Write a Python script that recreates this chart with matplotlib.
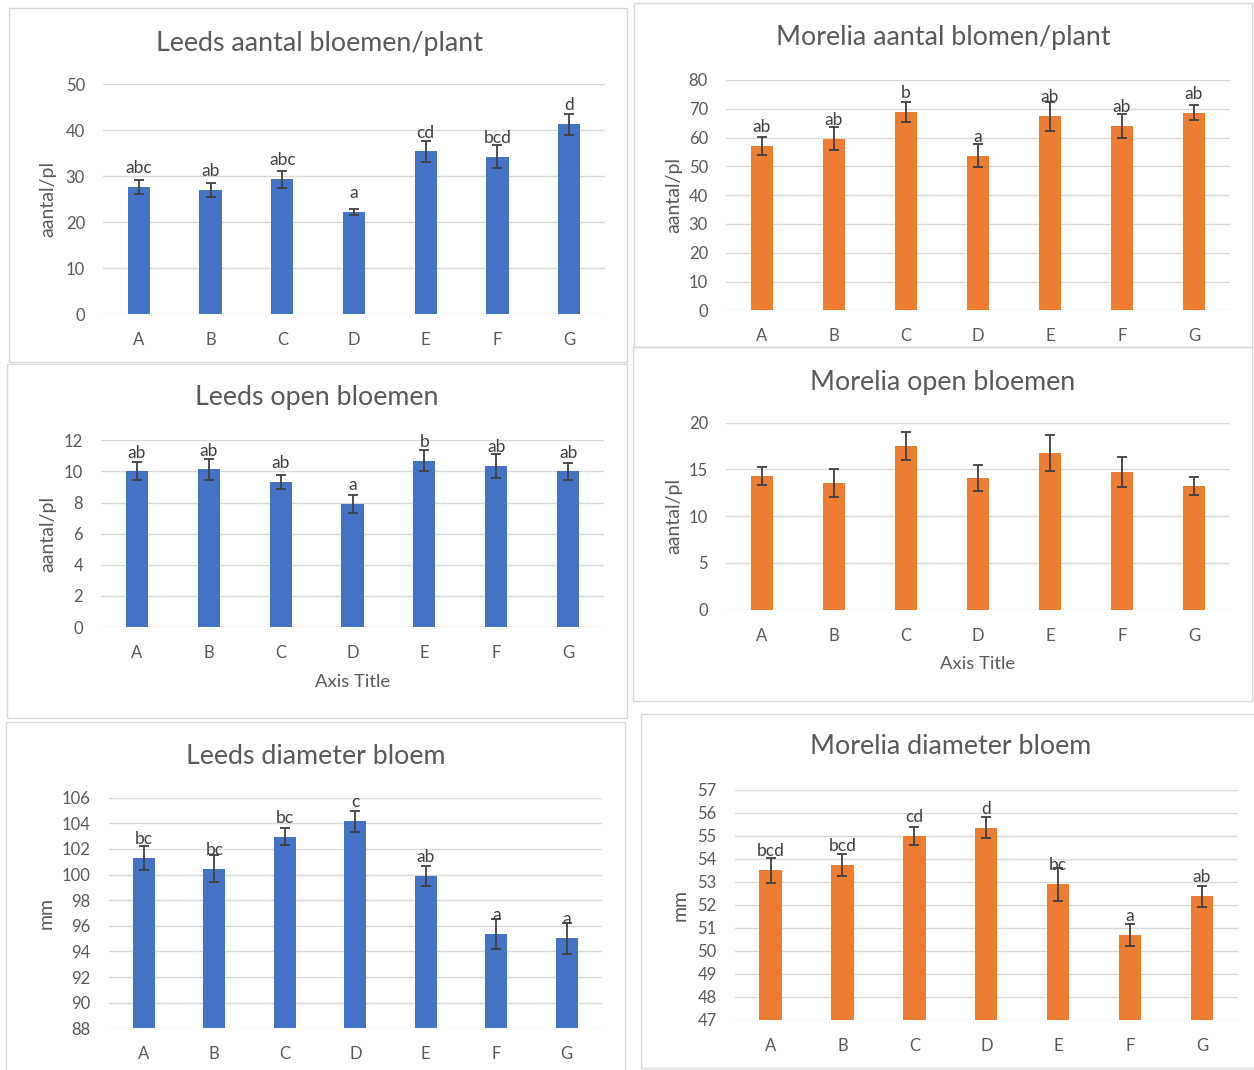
import matplotlib
matplotlib.use("Agg")
import matplotlib.pyplot as plt
from matplotlib.patches import Rectangle

plt.rcParams['font.family'] = ['Lato', 'DejaVu Sans']

# ---- data -------------------------------------------------------------
categories = ["A", "B", "C", "D", "E", "F", "G"]

leeds_aantal = [27.6, 27.0, 29.4, 22.3, 35.4, 34.2, 41.3]
leeds_aantal_err = [1.55, 1.55, 1.85, 0.7, 2.35, 2.5, 2.25]
leeds_aantal_lbl = ["abc", "ab", "abc", "a", "cd", "bcd", "d"]

morelia_aantal = [57.1, 59.6, 68.9, 53.7, 67.4, 64.1, 68.6]
morelia_aantal_err = [3.25, 4.0, 3.5, 3.9, 5.0, 4.25, 2.65]
morelia_aantal_lbl = ["ab", "ab", "b", "a", "ab", "ab", "ab"]

leeds_open = [10.0, 10.13, 9.32, 7.89, 10.69, 10.35, 10.0]
leeds_open_err = [0.58, 0.7, 0.46, 0.59, 0.69, 0.78, 0.55]
leeds_open_lbl = ["ab", "ab", "ab", "a", "b", "ab", "ab"]

morelia_open = [14.26, 13.55, 17.47, 14.08, 16.76, 14.76, 13.26]
morelia_open_err = [0.95, 1.5, 1.5, 1.35, 1.96, 1.6, 0.98]

leeds_diam = [101.32, 100.46, 102.96, 104.16, 99.91, 95.36, 95.02]
leeds_diam_err = [0.93, 1.04, 0.64, 0.83, 0.78, 1.17, 1.2]
leeds_diam_lbl = ["bc", "bc", "bc", "c", "ab", "a", "a"]

morelia_diam = [53.50, 53.73, 54.99, 55.35, 52.89, 50.68, 52.38]
morelia_diam_err = [0.53, 0.46, 0.38, 0.45, 0.72, 0.48, 0.46]
morelia_diam_lbl = ["bcd", "bcd", "cd", "d", "bc", "a", "ab"]

# ---- styling ----------------------------------------------------------
BLUE = "#4472C4"
ORANGE = "#ED7D31"
TEXT = "#595959"
GRID = "#D9D9D9"
ERR = "#404040"

W, H = 1254, 1070
fig = plt.figure(figsize=(W / 100, H / 100), dpi=100)
fig.patch.set_facecolor("white")


def frame(x0, y0, x1, y1):
    r = Rectangle((x0 / W, 1 - y1 / H), (x1 - x0) / W, (y1 - y0) / H,
                  transform=fig.transFigure, fill=False,
                  edgecolor=GRID, lw=1.0)
    fig.patches.append(r)


def panel(box, plot, title, title_xy, values, errs, color, ylim, yticks,
          ylabel, ylabel_x, labels=None, xlabel=None, xlabel_y=None):
    frame(*box)
    x0, x1, yt, yb = plot
    ax = fig.add_axes([x0 / W, 1 - yb / H, (x1 - x0) / W, (yb - yt) / H])
    xs = range(len(categories))
    ax.bar(xs, [v - ylim[0] for v in values], bottom=ylim[0], width=0.31,
           color=color, zorder=3)
    ax.errorbar(xs, values, yerr=errs, fmt="none", ecolor=ERR,
                elinewidth=1.3, capsize=3.3, capthick=1.3, zorder=4)
    if labels:
        for x, v, t in zip(xs, values, labels):
            ax.annotate(t, (x, v), xytext=(0, 10), textcoords="offset points",
                        ha="center", va="baseline", fontsize=12.5,
                        color=ERR, zorder=5)
    ax.set_xlim(-0.5, len(categories) - 0.5)
    ax.set_ylim(*ylim)
    ax.set_yticks(yticks)
    ax.set_xticks(list(xs))
    ax.set_xticklabels(categories)
    ax.yaxis.grid(True, color=GRID, lw=1.0, zorder=0)
    ax.set_axisbelow(True)
    for s in ax.spines.values():
        s.set_visible(False)
    ax.tick_params(axis="both", length=0, colors=TEXT, labelsize=12)
    ax.tick_params(axis="y", pad=13)
    ax.tick_params(axis="x", pad=13)
    ax.set_facecolor("none")
    fig.text(title_xy[0] / W, 1 - title_xy[1] / H, title, ha="center",
             va="center", fontsize=19.3, color=TEXT)
    fig.text(ylabel_x / W, 1 - (yt + yb) / 2 / H, ylabel, rotation=90,
             ha="center", va="center", fontsize=14, color=TEXT)
    if xlabel:
        fig.text((x0 + x1) / 2 / W, 1 - xlabel_y / H, xlabel, ha="center",
                 va="center", fontsize=13.3, color=TEXT)
    return ax


panel((9, 8, 627, 362), (103, 605, 84.3, 314.3),
      "Leeds aantal bloemen/plant", (319, 43),
      leeds_aantal, leeds_aantal_err, BLUE, (0, 50), range(0, 51, 10),
      "aantal/pl", 48, leeds_aantal_lbl)

panel((634, 3, 1252, 347), (726, 1230, 80, 310.3),
      "Morelia aantal blomen/plant", (943, 37),
      morelia_aantal, morelia_aantal_err, ORANGE, (0, 80), range(0, 81, 10),
      "aantal/pl", 674, morelia_aantal_lbl)

panel((7, 364, 627, 718), (101, 604, 440.3, 627),
      "Leeds open bloemen", (317, 398),
      leeds_open, leeds_open_err, BLUE, (0, 12), range(0, 13, 2),
      "aantal/pl", 48, leeds_open_lbl, "Axis Title", 682)

panel((633, 347, 1252, 701), (726, 1230, 422.7, 609.7),
      "Morelia open bloemen", (943, 382),
      morelia_open, morelia_open_err, ORANGE, (0, 20), range(0, 21, 5),
      "aantal/pl", 674, None, "Axis Title", 664)

panel((6, 722, 625, 1080), (108.6, 602, 797.7, 1028.3),
      "Leeds diameter bloem", (316, 757),
      leeds_diam, leeds_diam_err, BLUE, (88, 106), range(88, 107, 2),
      "mm", 46, leeds_diam_lbl)

panel((641, 714, 1260, 1068), (734.6, 1238, 789.7, 1020),
      "Morelia diameter bloem", (951, 747),
      morelia_diam, morelia_diam_err, ORANGE, (47, 57), range(47, 58, 1),
      "mm", 680, morelia_diam_lbl)

fig.savefig("out.png", dpi=100, facecolor="white")
